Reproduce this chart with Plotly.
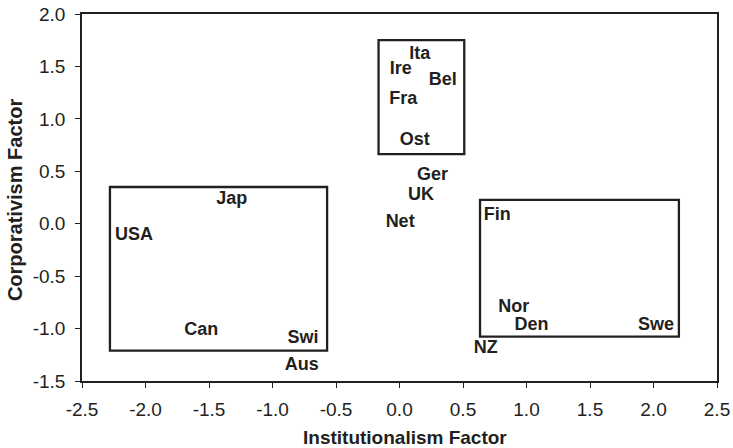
import plotly.graph_objects as go

countries = ["USA", "Jap", "Can", "Swi", "Aus", "Ita", "Ire", "Bel", "Fra", "Ost",
             "Ger", "UK", "Net", "Fin", "Nor", "Den", "Swe", "NZ"]
institutionalism = [-2.09, -1.32, -1.56, -0.76, -0.77, 0.16, 0.01, 0.34, 0.03, 0.12,
                    0.26, 0.17, 0.005, 0.77, 0.90, 1.04, 2.02, 0.68]
corporativism = [-0.11, 0.23, -1.02, -1.09, -1.35, 1.61, 1.47, 1.37, 1.18, 0.79,
                 0.46, 0.27, 0.015, 0.075, -0.80, -0.97, -0.97, -1.19]

# cluster boxes: (x0, x1, y0, y1)
box_x0 = [-2.28, -0.165, 0.634]
box_x1 = [-0.57, 0.51, 2.20]
box_y0 = [-1.21, 0.664, -1.076]
box_y1 = [0.35, 1.75, 0.228]

x_ticks = [-2.5, -2.0, -1.5, -1.0, -0.5, 0.0, 0.5, 1.0, 1.5, 2.0, 2.5]
y_ticks = [-1.5, -1.0, -0.5, 0.0, 0.5, 1.0, 1.5, 2.0]

x_title = "Institutionalism Factor"
y_title = "Corporativism Factor"

FONT = "Liberation Sans, Arial, Helvetica, sans-serif"
INK = "#231f20"

fig = go.Figure()
fig.add_trace(go.Scatter(
    x=institutionalism, y=corporativism, mode="text", text=countries,
    textposition="middle center",
    textfont=dict(family=FONT, size=18, color=INK, weight="bold"),
    hoverinfo="skip", showlegend=False,
))

for x0, x1, y0, y1 in zip(box_x0, box_x1, box_y0, box_y1):
    fig.add_shape(type="rect", xref="x", yref="y", x0=x0, x1=x1, y0=y0, y1=y1,
                  line=dict(color=INK, width=2.3), fillcolor="rgba(0,0,0,0)", layer="below")

fig.add_annotation(text=x_title, xref="paper", yref="paper", x=0.508, y=0,
                   xanchor="center", yanchor="middle", yshift=-56, showarrow=False,
                   font=dict(family=FONT, size=19, color=INK, weight="bold"))
fig.add_annotation(text=y_title, xref="paper", yref="paper", x=0, y=0.493,
                   xanchor="center", yanchor="middle", xshift=-67, textangle=-90,
                   showarrow=False,
                   font=dict(family=FONT, size=20, color=INK, weight="bold"))

fig.update_layout(
    width=733, height=448,
    margin=dict(l=82, r=16, t=14, b=67),
    paper_bgcolor="white", plot_bgcolor="white",
    font=dict(family=FONT, color=INK),
    xaxis=dict(
        range=[-2.5, 2.5], tickvals=x_ticks, ticktext=[f"{v:.1f}" for v in x_ticks],
        showgrid=False, zeroline=False, showline=True, linecolor=INK, linewidth=1.5,
        mirror=True, ticks="outside", ticklen=5, tickwidth=1.2, tickcolor=INK,
        tickfont=dict(family=FONT, size=19, color=INK),
        ticklabeloverflow="allow", ticklabelstandoff=5,
        automargin=False,
    ),
    yaxis=dict(
        range=[-1.5, 2.0], tickvals=y_ticks, ticktext=[f"{v:.1f}" for v in y_ticks],
        showgrid=False, zeroline=False, showline=True, linecolor=INK, linewidth=1.5,
        mirror=True, ticks="outside", ticklen=5, tickwidth=1.2, tickcolor=INK,
        tickfont=dict(family=FONT, size=19, color=INK),
        ticklabelstandoff=6,
        automargin=False,
    ),
)

fig.write_html("out.html", config={"displayModeBar": False},
               post_script="document.body.style.margin='0';document.body.style.overflow='hidden';")
